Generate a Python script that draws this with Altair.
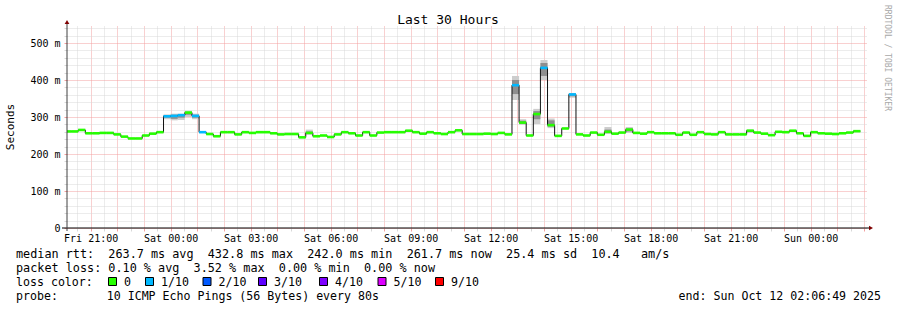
import altair as alt
import pandas as pd

# ---------------- data ----------------
# median RTT (ms) per 16-minute consolidated step, starting Fri 20:00
median_ms = [
    261, 261, 265, 256, 256, 257, 257, 253,
    247, 242.0, 242, 250, 255, 259,
    302, 303, 305, 312, 303, 259,
    254, 248, 259, 259, 253, 259, 257, 259, 259, 256, 253, 254, 254, 245, 257, 248,
    250, 246, 253, 259, 256, 250, 259, 250, 258, 259, 259, 259, 263, 259, 255, 259,
    256, 254, 259, 264, 254, 254, 254, 255, 254, 257, 253,
    386, 285, 250, 308, 432.8, 278, 249, 269, 361, 253, 250, 258, 252, 260,
    255, 258, 266, 257, 255, 259, 256, 256, 256, 252, 258, 252, 259, 254, 253, 259,
    253, 253, 253, 263, 258, 255, 251, 260, 259, 263, 256, 249, 259, 256, 255, 254,
    256, 258, 261.7,
]
# steps whose median is drawn in the "1/10" loss colour
loss_one_steps = [14, 15, 16, 18, 19, 63, 67, 71]

# smoke (spread of the pings) for the steps where it shows
smoke_step = [14, 15, 16, 17, 18, 34, 63, 64, 66, 67, 68, 71, 76, 79, 96]
smoke_lo = [294, 291, 292, 300, 294, 252, 346, 279, 281, 400, 270, 352, 254, 257, 257]
smoke_hi = [307, 309, 309, 317, 309, 266, 411, 294, 322, 454, 296, 365, 273, 273, 266]
core_lo = [298, 295, 298, 306, 298, 255, 362, 282, 294, 411, 274, 356, 257, 261, 260]
core_hi = [304, 306, 306, 313, 306, 261, 400, 290, 316, 446, 291, 363, 266, 269, 264]

loss_labels = ["0", "1/10", "2/10", "3/10", "4/10", "5/10", "9/10"]
loss_colors = ["#26ff00", "#00b8ff", "#0059ff", "#5e00ff", "#7e00ff", "#dd00ff", "#ff0000"]

title_text = "Last 30 Hours"
y_title = "Seconds"
legend_lines = [
    "median rtt:  263.7 ms avg  432.8 ms max  242.0 ms min  261.7 ms now  25.4 ms sd  10.4   am/s",
    "packet loss: 0.10 % avg  3.52 % max  0.00 % min  0.00 % now",
    "loss color:",
    "probe:       10 ICMP Echo Pings (56 Bytes) every 80s",
]
legend_sizes = [11.8, 11.8, 11.6, 11.6]
end_text = "end: Sun Oct 12 02:06:49 2025"
watermark = "RRDTOOL / TOBI OETIKER"

# ---------------- tables ----------------
n = len(median_ms)
t0 = pd.date_range("2025-10-10 20:00:00", periods=n, freq="16min")
t1 = t0 + pd.Timedelta(minutes=16)
loss = ["1" if i in loss_one_steps else "0" for i in range(n)]
seg_df = pd.DataFrame({"t0": t0, "t1": t1, "med": median_ms, "loss": loss})
step_df = pd.DataFrame({"t0": list(t0) + [t1[-1]], "med": median_ms + [median_ms[-1]]})
smoke_df = pd.DataFrame({
    "t0": [t0[i] for i in smoke_step], "t1": [t1[i] for i in smoke_step],
    "lo": smoke_lo, "hi": smoke_hi, "clo": core_lo, "chi": core_hi,
})

FONT = "DejaVu Sans Mono"
NB = "\u00a0"
W, H = 800, 202
PL, PT = 67, 26

grid_times = pd.date_range("2025-10-10 20:30", "2025-10-12 02:00", freq="30min")
xvals = [alt.DateTime(year=t.year, month=t.month, date=t.day, hours=t.hour, minutes=t.minute)
         for t in grid_times]

RED = "#f2a0a0"
GREY = "#d8d8d8"
xcol = {"condition": {"test": "minutes(datum.value) == 0", "value": RED}, "value": GREY}
ycol = {"condition": {"test": "datum.value % 100 == 0", "value": RED}, "value": GREY}

xaxis = alt.Axis(
    values=xvals, title=None, domain=False, grid=True, gridColor=xcol, gridDash=[1, 1],
    gridWidth=1, tickColor=xcol, tickSize=3, labelFont=FONT, labelFontSize=10,
    labelColor="#000000", labelPadding=2, labelOverlap=False, labelBound=False, labelFlush=False,
    labelExpr="(minutes(datum.value) == 0 && hours(datum.value) % 3 == 0) ? timeFormat(datum.value, '%a %H:%M') : ''",
)
yaxis = alt.Axis(
    values=list(range(0, 541, 20)), title=None, domain=False, grid=True, gridColor=ycol,
    gridDash=[1, 1], gridWidth=1, tickColor=ycol, tickSize=3, labelFont=FONT, labelFontSize=10,
    labelColor="#000000", labelPadding=4, labelOverlap=False,
    labelExpr="datum.value % 100 == 0 ? (datum.value == 0 ? '0" + NB + NB + "' : datum.value + ' m') : ''",
)
xscale = alt.Scale(domain=[
    alt.DateTime(year=2025, month=10, date=10, hours=20, minutes=6, seconds=49),
    alt.DateTime(year=2025, month=10, date=12, hours=2, minutes=6, seconds=49),
])
yscale = alt.Scale(domain=[0, 546], nice=False, zero=True)

X = alt.X("t0:T", scale=xscale, axis=xaxis)

smoke_outer = alt.Chart(smoke_df).mark_rect(color="#cdcdcd", clip=True).encode(
    x=X, x2="t1:T", y=alt.Y("lo:Q", scale=yscale, axis=yaxis), y2="hi:Q")
smoke_core = alt.Chart(smoke_df).mark_rect(color="#8e8e8e", clip=True).encode(
    x=X, x2="t1:T", y=alt.Y("clo:Q", scale=yscale, axis=yaxis), y2="chi:Q")
step_line = alt.Chart(step_df).mark_line(interpolate="step-after", color="#101010",
                                         strokeWidth=1, clip=True).encode(
    x=X, y=alt.Y("med:Q", scale=yscale, axis=yaxis))
colored = alt.Chart(seg_df).mark_rule(strokeWidth=2.6, clip=True, strokeCap="butt").encode(
    x=X, x2="t1:T", y=alt.Y("med:Q", scale=yscale, axis=yaxis),
    color=alt.Color("loss:N", scale=alt.Scale(domain=["0", "1"], range=loss_colors[:2]), legend=None))

one = pd.DataFrame({"a": [0]})
x_axis_line = alt.Chart(one).mark_rule(color="#000000", strokeWidth=1).encode(
    x=alt.value(-5), x2=alt.value(W + 3), y=alt.value(H))
y_axis_line = alt.Chart(one).mark_rule(color="#404040", strokeWidth=1).encode(
    x=alt.value(0), y=alt.value(-4), y2=alt.value(H + 3))
x_arrow = alt.Chart(one).mark_point(shape="triangle-right", filled=True, color="#7f0000",
                                    size=22, opacity=1).encode(x=alt.value(W + 4), y=alt.value(H))
y_arrow = alt.Chart(one).mark_point(shape="triangle-up", filled=True, color="#7f0000",
                                    size=22, opacity=1).encode(x=alt.value(0), y=alt.value(-4))


def txt(s, x, y, size=11.6, align="left", baseline="alphabetic", angle=0, color="#000000"):
    return alt.Chart(pd.DataFrame({"t": [s.replace(" ", NB)]})).mark_text(
        font=FONT, fontSize=size, align=align, baseline=baseline, angle=angle,
        color=color, x=x - PL, y=y - PT).encode(text="t:N")


layers = [smoke_outer, smoke_core, step_line, colored, x_axis_line, y_axis_line, x_arrow, y_arrow]
layers.append(txt(title_text, 448, 23.5, size=13, align="center"))
layers.append(txt(y_title, 10.5, 127, size=11, align="center", baseline="middle", angle=270))
layers.append(txt(watermark, 887, 5, size=8, baseline="middle", angle=90, color="#a8a8a8"))
for line, yb, fs in zip(legend_lines, [257.5, 271.8, 286.0, 300.2], legend_sizes):
    layers.append(txt(line, 16, yb, size=fs))
layers.append(txt(end_text, 881, 300.2, align="right"))

sw_center = [112.5, 149.5, 207, 262.5, 323.5, 382, 439.5]
for lab, col, cx in zip(loss_labels, loss_colors, sw_center):
    layers.append(alt.Chart(one).mark_square(size=64, fill=col, stroke="#000000", strokeWidth=1,
                                             opacity=1).encode(x=alt.value(cx - PL), y=alt.value(281.5 - PT)))
    layers.append(txt(lab, cx + 11.5, 286.0))

chart = alt.layer(*layers).properties(
    width=W, height=H,
    autosize=alt.AutoSizeParams(type="none"),
    padding={"left": PL, "top": PT, "right": 897 - PL - W, "bottom": 310 - PT - H},
    background="white",
).configure_view(stroke=None)

chart.save("out.html", embed_options={"renderer": "svg", "actions": False})
